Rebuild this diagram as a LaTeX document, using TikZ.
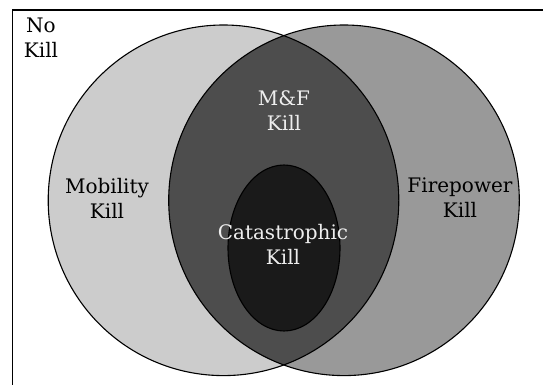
\documentclass[tikz,border=0pt]{standalone}
\usepackage{fontspec}
\setmainfont{DejaVu Serif}
\definecolor{mobgray}{HTML}{CCCCCC}
\definecolor{firegray}{HTML}{999999}
\definecolor{mfgray}{HTML}{4D4D4D}
\definecolor{catgray}{HTML}{1A1A1A}
\definecolor{lighttext}{HTML}{EEEEEE}
\tikzset{
  region/.style={draw=black, line width=1.1pt},
  lbl/.style={align=center, inner sep=0pt, font=\fontsize{20}{25}\selectfont},
}
\begin{document}
\begin{tikzpicture}[x=1pt,y=-1pt]
\useasboundingbox (0,0) rectangle (543,385);
% frame (only left and top edges visible)
\draw[line width=1.3pt] (12.5,385) -- (12.5,10) -- (543,10);
% circle fills
\fill[mobgray] (223.5,200.3) circle[radius=175.3];
\fill[firegray] (344,200.3) circle[radius=175.3];
\begin{scope}
  \clip (223.5,200.3) circle[radius=175.3];
  \fill[mfgray] (344,200.3) circle[radius=175.3];
\end{scope}
% outlines
\draw[region] (223.5,200.3) circle[radius=175.3];
\draw[region] (344,200.3) circle[radius=175.3];
% catastrophic ellipse
\draw[region, fill=catgray] (284,248) ellipse[x radius=56, y radius=83];
% labels
\node[lbl] (nokill) at (41,38) {No\\Kill};
\node[lbl] (mob) at (107,198) {Mobility\\Kill};
\node[lbl] (fire) at (460,198) {Firepower\\Kill};
\node[lbl, text=lighttext] (mf) at (284,111) {M\&F\\Kill};
\node[lbl, text=lighttext] (cat) at (283,244) {Catastrophic\\Kill};
\end{tikzpicture}
\end{document}
